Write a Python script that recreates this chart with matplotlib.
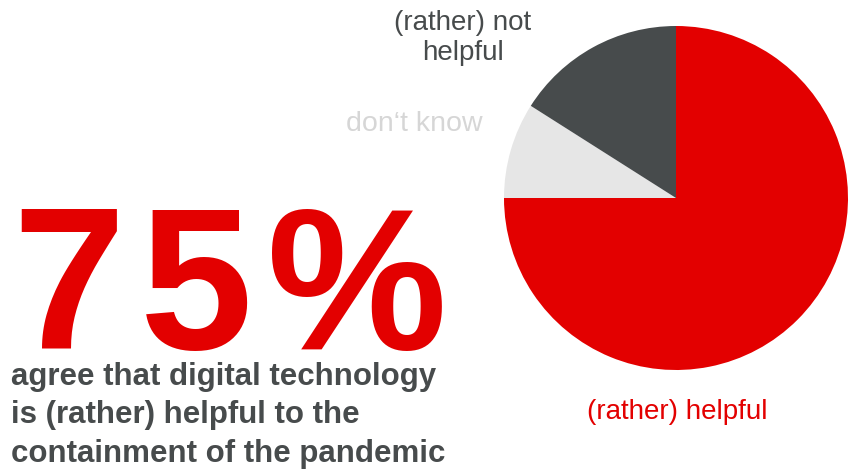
import matplotlib
matplotlib.use("Agg")
import matplotlib.pyplot as plt

# survey shares (percent)
labels = ["(rather) helpful", "don\u2018t know", "(rather) not\nhelpful"]
shares = [75, 9, 16]
colors = ["#E30000", "#E6E6E6", "#474B4C"]
label_colors = ["#E30000", "#D6D6D6", "#474B4C"]

headline = f"{shares[0]}%"
subtitle = ["agree that digital technology",
            "is (rather) helpful to the",
            "containment of the pandemic"]

W, H = 856, 472
plt.rcParams["font.family"] = ["Liberation Sans", "DejaVu Sans"]
fig = plt.figure(figsize=(W / 100, H / 100), dpi=100)

# pie, placed in pixel units
cx, cy, r = 676, 198, 172
ax = fig.add_axes([(cx - r) / W, (H - cy - r) / H, 2 * r / W, 2 * r / H])
ax.pie(shares, colors=colors, startangle=90, counterclock=False,
       wedgeprops=dict(linewidth=0))
ax.set_xlim(-1, 1)
ax.set_ylim(-1, 1)
ax.set_aspect("equal")
ax.axis("off")

# slice labels
fig.text(677 / W, 1 - 412 / H, labels[0], color=label_colors[0],
         fontsize=20, ha="center", va="center")
fig.text(414 / W, 1 - 124 / H, labels[1], color=label_colors[1],
         fontsize=20.5, ha="center", va="center")
fig.text(463 / W, 1 - 38 / H, labels[2], color=label_colors[2],
         fontsize=20, ha="center", va="center", linespacing=1.2)

# headline number, drawn glyph by glyph for wider tracking
renderer = fig.canvas.get_renderer()
x = 12
tracking = 15
for ch in headline:
    t = fig.text(x / W, 1 - 349 / H, ch, color="#E30000", fontsize=146,
                 fontweight="bold", ha="left", va="baseline")
    x += t.get_window_extent(renderer).width + tracking

# caption lines
for i, line in enumerate(subtitle):
    fig.text(11 / W, 1 - (385 + 38.5 * i) / H, line, color="#474B4C",
             fontsize=22.5, fontweight="bold", ha="left", va="baseline")

fig.savefig("out.png", dpi=100)
plt.close(fig)
